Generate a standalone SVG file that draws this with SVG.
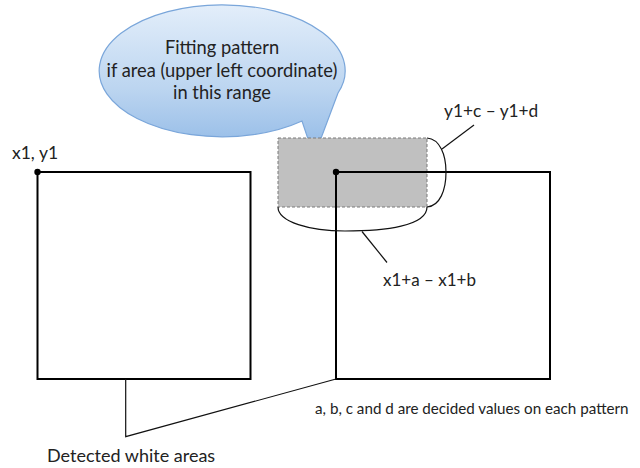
<svg xmlns="http://www.w3.org/2000/svg" width="640" height="468" viewBox="0 0 640 468">
<defs>
<linearGradient id="bub" x1="0" y1="0" x2="0" y2="1">
<stop offset="0" stop-color="#e3eefa"/>
<stop offset="0.55" stop-color="#bcd5f0"/>
<stop offset="1" stop-color="#8fb8e6"/>
</linearGradient>
<style>
text{font-family:Lato,"Liberation Sans",sans-serif;fill:#222}
.box{fill:none;stroke:#000;stroke-width:2}
.thin{fill:none;stroke:#111;stroke-width:1.2}
</style>
</defs>
<rect width="640" height="468" fill="#fff"/>
<g id="callout">
<path d="M338 93 A123 66 0 1 0 302 121 L314 157 Z" fill="url(#bub)" stroke="#7aa6da" stroke-width="1.2"/>
<text x="222" y="54" font-size="18.3" text-anchor="middle">Fitting pattern</text>
<text x="222" y="77" font-size="18.3" text-anchor="middle">if area (upper left coordinate)</text>
<text x="222" y="99" font-size="18.3" text-anchor="middle">in this range</text>
</g>
<g id="range">
<rect x="278" y="138" width="149" height="69" fill="#c0c0c0" stroke="#7a7a7a" stroke-width="1" stroke-dasharray="3,2"/>
</g>
<g id="area1">
<rect class="box" x="37.5" y="172" width="213" height="207"/>
<circle cx="37.5" cy="172" r="3.2" fill="#000"/>
<text x="12" y="159" font-size="17.5">x1, y1</text>
</g>
<g id="area2">
<path d="M336 379 V172 H550 V379 Z" class="box"/>
<circle cx="336" cy="172" r="3.2" fill="#000"/>
</g>
<g id="connectors">
<path class="thin" d="M278 207 C278 222 310 231 345 231 C385 231 427 226 427 207"/>
<path class="thin" d="M427 138 C440 139 446 155 446 172 C446 190 440 206 427 207"/>
<line class="thin" x1="362" y1="231.5" x2="387" y2="262.5"/>
<line class="thin" x1="442" y1="149" x2="474" y2="125"/>
<polyline class="thin" points="125.7,379 125.7,436.7 336,379"/>
</g>
<g id="labels">
<text x="444" y="117" font-size="17.3">y1+c – y1+d</text>
<text x="383" y="286" font-size="17">x1+a – x1+b</text>
<text x="315" y="414" font-size="15.2">a, b, c and d are decided values on each pattern</text>
<text x="47" y="462" font-size="18">Detected white areas</text>
</g>
</svg>
